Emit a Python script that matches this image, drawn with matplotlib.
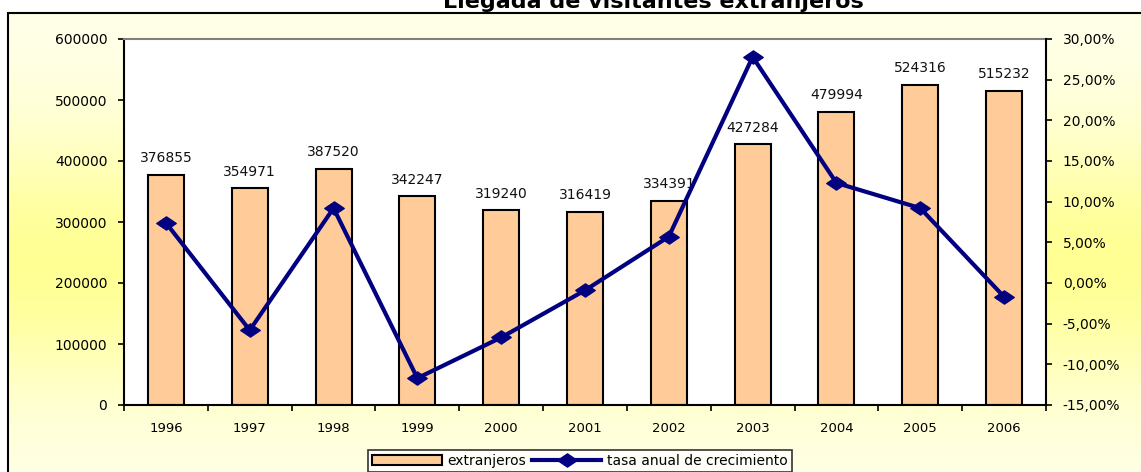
import numpy as np
import matplotlib
matplotlib.use("Agg")
import matplotlib.pyplot as plt
from matplotlib.patches import Rectangle
from matplotlib.path import Path
from matplotlib.ticker import FuncFormatter, MultipleLocator, FixedLocator

plt.rcParams['font.family'] = ['DejaVu Sans']

# data
years = ['1996', '1997', '1998', '1999', '2000', '2001', '2002', '2003', '2004', '2005', '2006']
extranjeros = [376855, 354971, 387520, 342247, 319240, 316419, 334391, 427284, 479994, 524316, 515232]
tasa = [7.4, -5.8, 9.2, -11.7, -6.7, -0.9, 5.7, 27.8, 12.3, 9.2, -1.7]

W, H = 1141, 472
fig = plt.figure(figsize=(W / 100, H / 100), dpi=100)
fig.patch.set_facecolor('white')

# background panel with a soft yellow gradient
bg = fig.add_axes([0, 0, 1, 1])
bg.set_xlim(0, 1)
bg.set_ylim(0, 1)
bg.axis('off')
fx0 = 8 / W
fy1 = 1 - 13 / H
yy = np.linspace(0, 1, 200)[:, None]
peak = 1 - 255 / H
t = np.exp(-((yy - peak) / 0.28) ** 2)
c_light = np.array([1.0, 1.0, 0.92])
c_yel = np.array([1.0, 1.0, 0.58])
grad = c_light[None, None, :] * (1 - t[..., None]) + c_yel[None, None, :] * t[..., None]
grad = np.repeat(grad, 2, axis=1)
bg.imshow(grad, extent=[fx0, 1.01, -0.01, fy1], origin='lower', aspect='auto', zorder=0)
bg.add_patch(Rectangle((fx0, -0.01), 1.01 - fx0, fy1 + 0.01, fill=False,
                       edgecolor='black', lw=1.5, zorder=1))

# title sits mostly above the top edge, as in the reference
fig.text(0.573, 1 - 8 / H, 'Llegada de visitantes extranjeros', ha='center', va='baseline',
         fontsize=16, fontweight='bold', color='black')

# main plot area
ax = fig.add_axes([124 / W, 1 - 405 / H, 922 / W, 366 / H])
ax.set_facecolor('white')
x = np.arange(len(years))
bars = ax.bar(x, extranjeros, width=0.43, color='#FFCC99', edgecolor='black', lw=1.5,
              label='extranjeros', zorder=2)
for i, v in enumerate(extranjeros):
    ax.annotate(str(v), (x[i], v), xytext=(0, 7), textcoords='offset points',
                ha='center', va='bottom', fontsize=10, color='#111111')

ax.set_xlim(-0.5, len(years) - 0.5)
ax.set_ylim(0, 600000)
ax.yaxis.set_major_locator(MultipleLocator(100000))
ax.xaxis.set_major_locator(FixedLocator(np.arange(-0.5, len(years), 1.0)))
ax.xaxis.set_major_formatter(FuncFormatter(lambda v, p: ''))
ax.xaxis.set_minor_locator(FixedLocator(x))
ax.set_xticklabels(years, minor=True)
ax.tick_params(axis='x', which='minor', length=0, pad=12, labelsize=9.5)
ax.tick_params(axis='x', which='major', length=4, width=1.2, direction='out')
ax.tick_params(axis='y', length=4, width=1.2, pad=8, labelsize=10)
for s in ['left', 'bottom']:
    ax.spines[s].set_linewidth(1.5)
ax.spines['top'].set_color('#808080')
ax.spines['top'].set_linewidth(1.5)
ax.spines['right'].set_visible(False)

ax2 = ax.twinx()
diamond = Path([(-1, 0), (0, 0.68), (1, 0), (0, -0.68), (-1, 0)],
               [Path.MOVETO, Path.LINETO, Path.LINETO, Path.LINETO, Path.CLOSEPOLY])
line, = ax2.plot(x, tasa, color='#000080', lw=3, marker=diamond, ms=14,
                 label='tasa anual de crecimiento', zorder=3)
ax2.set_ylim(-15, 30)
ax2.yaxis.set_major_locator(MultipleLocator(5))
ax2.yaxis.set_major_formatter(FuncFormatter(lambda v, p: f'{v:.2f}%'.replace('.', ',')))
ax2.tick_params(axis='y', length=4, width=1.2, pad=8, labelsize=10)
ax2.spines['right'].set_linewidth(1.5)
ax2.spines['top'].set_visible(False)
ax2.spines['left'].set_visible(False)
ax2.spines['bottom'].set_visible(False)

leg = fig.legend([bars, line], ['extranjeros', 'tasa anual de crecimiento'],
                 loc='upper center', bbox_to_anchor=(580 / W, 1 - 450 / H), ncol=2,
                 fontsize=10, frameon=True, fancybox=False, handlelength=5,
                 columnspacing=0.4, handletextpad=0.4, borderpad=0.3, borderaxespad=0)
leg.get_frame().set_edgecolor('black')
leg.get_frame().set_linewidth(1.2)
leg.get_frame().set_facecolor('white')

fig.savefig('out.png', dpi=100)
